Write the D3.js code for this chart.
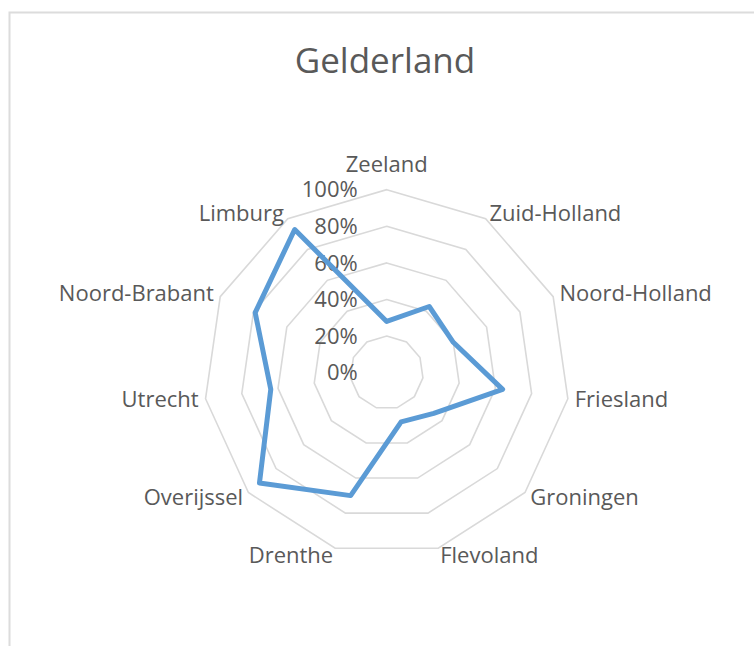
<!DOCTYPE html>
<html>
<head>
<meta charset="utf-8">
<script src="https://cdn.jsdelivr.net/npm/d3@7"></script>
<style>
  html, body { margin: 0; padding: 0; background: #fff; }
  svg { display: block; font-family: "Open Sans", "Noto Sans", sans-serif; }
</style>
</head>
<body>
<svg id="chart" width="754" height="646"></svg>
<script>
const title = "Gelderland";
const provinces = ["Zeeland", "Zuid-Holland", "Noord-Holland", "Friesland", "Groningen",
  "Flevoland", "Drenthe", "Overijssel", "Utrecht", "Noord-Brabant", "Limburg"];
const values = [0.28, 0.43, 0.40, 0.64, 0.34, 0.28, 0.70, 0.92, 0.64, 0.79, 0.93];
const ticks = [0, 0.2, 0.4, 0.6, 0.8, 1.0];

const svg = d3.select("#chart");
const width = +svg.attr("width");
const height = +svg.attr("height");

// chart frame (cut off at right/bottom like the screenshot)
svg.append("rect")
  .attr("x", 9.5).attr("y", 12.5)
  .attr("width", width + 20).attr("height", height + 20)
  .attr("fill", "none")
  .attr("stroke", "#dcdcdc")
  .attr("stroke-width", 2);

svg.append("text")
  .attr("x", 385)
  .attr("y", 73)
  .attr("text-anchor", "middle")
  .attr("font-size", 35)
  .attr("fill", "#595959")
  .text(title);

const cx = 386.7, cy = 372.7;
const rScale = d3.scaleLinear().domain([0, 1]).range([0, 183]);
const angle = d3.scaleLinear().domain([0, provinces.length]).range([0, 2 * Math.PI]);

const g = svg.append("g").attr("transform", `translate(${cx},${cy})`);

// rings
const ring = d3.lineRadial()
  .angle((d, i) => angle(i))
  .radius(d => rScale(d))
  .curve(d3.curveLinearClosed);

g.selectAll(".ring")
  .data(ticks.filter(t => t > 0))
  .enter()
  .append("path")
  .attr("class", "ring")
  .attr("d", t => ring(provinces.map(() => t)))
  .attr("fill", "none")
  .attr("stroke", "#d9d9d9")
  .attr("stroke-width", 1.6);

// tick labels
g.selectAll(".tick-label")
  .data(ticks)
  .enter()
  .append("text")
  .attr("x", -29)
  .attr("y", t => -rScale(t))
  .attr("dy", "0.35em")
  .attr("text-anchor", "end")
  .attr("font-size", 22)
  .attr("fill", "#595959")
  .text(d3.format(".0%"));

// series line
g.append("path")
  .attr("d", ring(values))
  .attr("fill", "none")
  .attr("stroke", "#5b9bd5")
  .attr("stroke-width", 5)
  .attr("stroke-linejoin", "round");

// category labels
const labelR = 190;
g.selectAll(".cat")
  .data(provinces)
  .enter()
  .append("text")
  .attr("class", "cat")
  .attr("font-size", 22)
  .attr("fill", "#595959")
  .each(function(d, i) {
    const a = angle(i);
    const x = Math.sin(a) * labelR;
    const y = -Math.cos(a) * labelR;
    const t = d3.select(this);
    if (Math.abs(x) < 1) {
      t.attr("x", x).attr("y", y - 11).attr("text-anchor", "middle");
    } else {
      t.attr("x", x).attr("y", y).attr("dy", "0.35em")
        .attr("text-anchor", x > 0 ? "start" : "end");
    }
    t.text(d);
  });
</script>
</body>
</html>
